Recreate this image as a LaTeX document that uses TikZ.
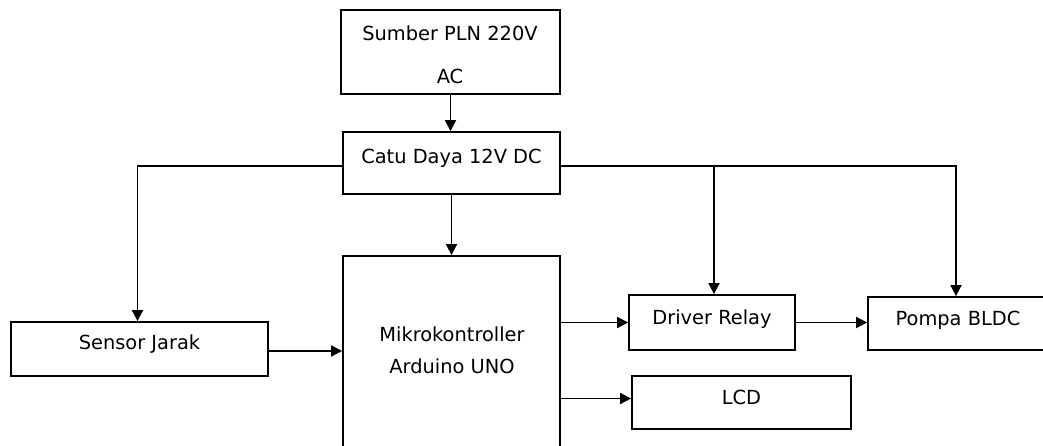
\documentclass[tikz,border=0pt]{standalone}
\usepackage{fontspec}
\setmainfont{DejaVu Sans}
\usetikzlibrary{arrows.meta,calc}
\begin{document}
\begin{tikzpicture}[x=1bp,y=-1bp,
  blk/.style={draw=black,line width=1.8bp,inner sep=0pt,text height=14bp,text depth=12bp,
    font=\fontsize{19.4bp}{23bp}\selectfont},
  lbl/.style={inner sep=0pt,align=center},
  conn/.style={draw=black,line width=1.8bp},
  arr/.style={conn,-{Triangle[length=11bp,width=11bp]}}]
\useasboundingbox (0,0) rectangle (1043,446);
\clip (0,0) rectangle (1043,446);
% boxes
\node[blk,minimum width=219bp,minimum height=84bp,text height=,text depth=] (sp) at (450.5,52) {};
\node[lbl,font=\fontsize{19.4bp}{43bp}\selectfont] (spt) at (450,55) {Sumber PLN 220V\\AC};
\node[blk,minimum width=217bp,minimum height=62bp] (cd) at (451.5,163) {Catu Daya 12V DC};
\node[blk,minimum width=217bp,minimum height=224bp] (mk) at (451.5,368) {};
\node[lbl,font=\fontsize{19.4bp}{32bp}\selectfont] (mkt) at (452,350) {Mikrokontroller\\Arduino UNO};
\node[blk,minimum width=257bp,minimum height=54bp] (sj) at (139.5,349) {Sensor Jarak};
\node[blk,minimum width=166bp,minimum height=55bp,text height=15bp,text depth=11bp] (dr) at (712,322.5) {Driver Relay};
\node[blk,minimum width=180bp,minimum height=53bp,text height=15bp,text depth=11bp] (pb) at (958,323.5) {Pompa BLDC};
\node[blk,minimum width=219bp,minimum height=53bp,text height=15bp,text depth=11bp] (lcd) at (741.5,402.5) {LCD};
% connectors
\draw[arr] (sp.south) -- (sp.south |- cd.north);
\draw[arr] (cd.south) -- (cd.south |- mk.north);
\coordinate (cdw) at ([yshift=-3bp]cd.west);
\coordinate (cde) at ([yshift=-3bp]cd.east);
\draw[arr] (cdw) -| ([xshift=-2bp]sj.north);
\draw[arr] (cde) -| ([xshift=2bp]dr.north);
\draw[arr] (cde) -| ([xshift=-2bp]pb.north);
\draw[arr] ([yshift=-2bp]sj.east) -- ([yshift=-2bp]sj.east -| mk.west);
\draw[arr] (dr.west -| mk.east) -- (dr.west);
\draw[arr] (dr.east) -- (dr.east -| pb.west);
\draw[arr] ([yshift=4bp]lcd.west -| mk.east) -- ([yshift=4bp]lcd.west);
\end{tikzpicture}
\end{document}
